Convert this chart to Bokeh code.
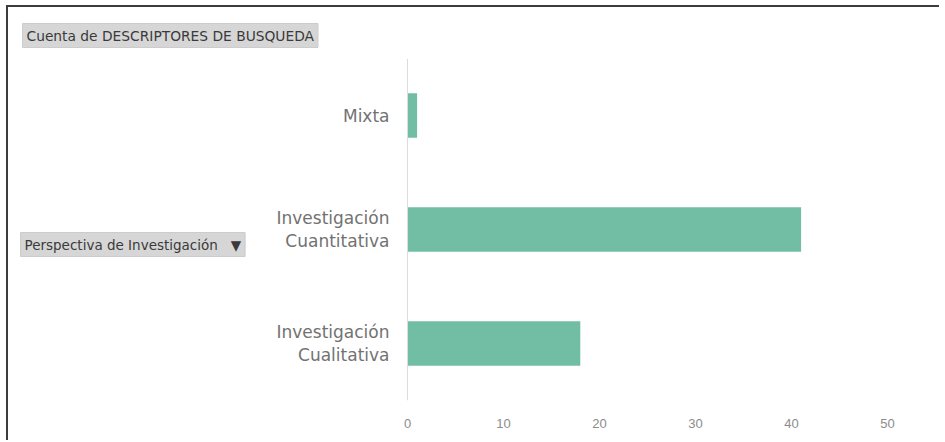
from bokeh.plotting import figure
from bokeh.models import FactorRange, Range1d, FixedTicker, Label, Span
from bokeh.core.properties import value
from bokeh.embed import file_html
from bokeh.resources import INLINE

categories = ["Investigación Cualitativa", "Investigación Cuantitativa", "Mixta"]
counts = [18, 41, 1]
label_text = ["Investigación\nCualitativa", "Investigación\nCuantitativa", "Mixta"]
x_ticks = [0, 10, 20, 30, 40, 50]
value_title = "Cuenta de DESCRIPTORES DE BUSQUEDA"
field_title = "Perspectiva de Investigación \u00a0\u00a0▼"

# page offset of the canvas (CSS margin + border) and frame geometry
OX, OY = 8, 7
W, H = 945 - OX - 4, 442 - OY
ZERO_X = 407 - OX          # frame pixel where the value axis starts
FRAME_R = 930 - OX
FRAME_T = 58 - OY
FRAME_B = 400 - OY
PX_PER_UNIT = 9.6

p = figure(width=W, height=H, output_backend="svg", toolbar_location=None,
           y_range=FactorRange(factors=categories, range_padding=0, factor_padding=0),
           x_range=Range1d(-ZERO_X / PX_PER_UNIT, (FRAME_R - ZERO_X) / PX_PER_UNIT))
p.styles = {"margin-left": "6px", "margin-top": "5px",
            "border-left": "2px solid #3c3c3c", "border-top": "2px solid #3c3c3c",
            "border-right": "0px none", "outline": "none", "box-shadow": "none"}
p.min_border_left = 0
p.min_border_right = W - FRAME_R
p.min_border_top = FRAME_T
p.min_border_bottom = H - FRAME_B
p.outline_line_color = None
p.background_fill_color = "white"
p.border_fill_color = "white"

p.hbar(y=categories, right=counts, height=0.39, fill_color="#72bea4", line_color=None)
p.add_layout(Span(location=0, dimension="height", line_color="#dcdcdc", line_width=1))
p.text(x=[0] * len(categories), y=categories, text=label_text, x_offset=-18,
       text_align="right", text_baseline="middle", text_color="#727272",
       text_font=value("DejaVu Sans"), text_font_size="17px", text_line_height=1.12)

p.xgrid.visible = False
p.ygrid.visible = False
p.yaxis.visible = False

xa = p.xaxis[0]
xa.ticker = FixedTicker(ticks=x_ticks)
xa.axis_line_color = None
xa.major_tick_line_color = None
xa.minor_tick_line_color = None
xa.major_label_standoff = 12
xa.major_label_text_color = "#8c8c8c"
xa.major_label_text_font = "Liberation Sans"
xa.major_label_text_font_size = "13px"

p.title.text = value_title
p.title.align = "left"
p.title.offset = 22 - OX
p.title.standoff = 22
p.title.text_font = "DejaVu Sans"
p.title.text_font_style = "normal"
p.title.text_font_size = "13.8px"
p.title.text_color = "#3a3a3a"
p.title.background_fill_color = "#d6d6d6"
p.title.border_line_color = "#cccccc"
p.title.padding = 4

btn2 = Label(x=20 - OX, y=400 - 256, x_units="screen", y_units="screen", text=field_title,
             text_font="DejaVu Sans", text_font_size="13.5px", text_color="#3a3a3a",
             background_fill_color="#d6d6d6", border_line_color="#cccccc", padding=4)
p.add_layout(btn2)

open("out.html", "w").write(file_html(p, INLINE))
